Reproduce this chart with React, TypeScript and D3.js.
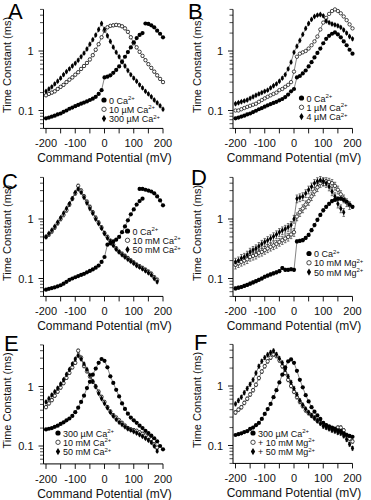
import * as React from "react";
import * as d3 from "d3";

const FONT = "'Liberation Sans', Arial, Helvetica, sans-serif";
const STEP = 10; // mV between command steps

// ---- data: time constants (ms), first value at `start` mV, then every 10 mV ----
const aZero = [0.074, 0.076, 0.079, 0.082, 0.086, 0.089, 0.095, 0.1, 0.107, 0.112, 0.118, 0.124, 0.13, 0.136, 0.142, 0.15, 0.158, 0.17, 0.19, 0.22, 0.36, 0.37, 0.39, 0.43, 0.48, 0.55, 0.66, 0.8, 0.96, 1.15, 1.4, 1.65, 1.86, 2.0];
const aZeroHi = [2.9, 2.85, 2.7, 2.5, 2.2, 1.95, 1.7];
const a10uM = [0.18, 0.19, 0.2, 0.21, 0.23, 0.25, 0.27, 0.3, 0.33, 0.36, 0.4, 0.44, 0.5, 0.56, 0.63, 0.72, 0.85, 1.05, 1.3, 1.7, 2.2, 2.5, 2.65, 2.7, 2.75, 2.7, 2.6, 2.4, 2.1, 1.7, 1.35, 1.15, 0.97, 0.83, 0.7, 0.6, 0.52, 0.45, 0.39, 0.34, 0.3];
const a300uM = [0.21, 0.23, 0.25, 0.28, 0.31, 0.35, 0.4, 0.45, 0.5, 0.56, 0.62, 0.7, 0.8, 0.92, 1.08, 1.3, 1.55, 1.85, 2.3, 2.9, 2.3, 1.8, 1.45, 1.16, 0.95, 0.8, 0.66, 0.56, 0.47, 0.4, 0.35, 0.31, 0.27, 0.24, 0.21, 0.19, 0.17, 0.15, 0.135, 0.12, 0.105];

const bZero = [0.074, 0.076, 0.079, 0.082, 0.086, 0.089, 0.094, 0.099, 0.105, 0.11, 0.116, 0.122, 0.128, 0.134, 0.14, 0.148, 0.156, 0.168, 0.185, 0.21, 0.23, 0.36, 0.38, 0.42, 0.47, 0.55, 0.65, 0.78, 0.93, 1.1, 1.35, 1.6, 1.8, 1.95, 2.05, 1.9, 1.7, 1.45, 1.25, 1.05, 0.9];
const b1uM = [0.1, 0.1, 0.105, 0.11, 0.115, 0.12, 0.125, 0.13, 0.14, 0.15, 0.16, 0.17, 0.18, 0.19, 0.2, 0.22, 0.23, 0.25, 0.27, 0.3, 0.45, 0.8, 0.9, 0.95, 1.0, 1.1, 1.25, 1.45, 1.75, 2.3, 3.0, 3.6, 4.2, 4.7, 5.0, 4.7, 4.3, 3.8, 3.3, 2.8, 2.4];
const b4uM = [0.13, 0.135, 0.14, 0.145, 0.15, 0.16, 0.17, 0.18, 0.19, 0.2, 0.21, 0.22, 0.24, 0.26, 0.28, 0.31, 0.35, 0.4, 0.5, 0.65, 0.95, 1.2, 1.5, 1.9, 2.4, 2.9, 3.4, 3.8, 4.0, 4.1, 3.9, 3.2, 3.0, 2.85, 2.75, 2.65, 2.5, 2.25, 2.0, 1.75, 1.6];

const cZero = [0.065, 0.067, 0.069, 0.071, 0.074, 0.077, 0.082, 0.088, 0.095, 0.1, 0.105, 0.11, 0.115, 0.12, 0.127, 0.134, 0.142, 0.152, 0.165, 0.19, 0.23, 0.37, 0.39, 0.42, 0.45, 0.5, 0.6, 0.75, 0.95, 1.2, 1.45, 1.75, 2.0, 2.2];
const cZeroHi = [3.2, 3.2, 3.1, 3.0, 2.9, 2.7, 2.4, 2.05, 1.7];
const c10mM = [0.5, 0.55, 0.62, 0.72, 0.85, 1.0, 1.17, 1.4, 1.75, 2.2, 2.7, 3.6, 3.0, 2.4, 1.95, 1.6, 1.3, 1.05, 0.87, 0.72, 0.58, 0.5, 0.43, 0.37, 0.32, 0.28, 0.26, 0.24, 0.22, 0.2, 0.185, 0.17, 0.16, 0.15, 0.14, 0.13, 0.12, 0.105, 0.095];
const c50mM = [0.5, 0.57, 0.65, 0.75, 0.88, 1.05, 1.25, 1.5, 1.8, 2.2, 2.8, 3.2, 2.8, 2.3, 1.85, 1.5, 1.25, 1.0, 0.84, 0.7, 0.57, 0.48, 0.42, 0.36, 0.31, 0.28, 0.25, 0.23, 0.21, 0.195, 0.18, 0.165, 0.155, 0.145, 0.135, 0.125, 0.115, 0.1, 0.088];

const dZero = [0.068, 0.07, 0.072, 0.075, 0.078, 0.082, 0.086, 0.09, 0.095, 0.1, 0.107, 0.112, 0.117, 0.122, 0.127, 0.133, 0.15, 0.14, 0.14, 0.143, 0.14, 0.42, 0.43, 0.44, 0.48, 0.54, 0.65, 0.79, 0.97, 1.17, 1.4, 1.6, 1.8, 2.0, 2.1, 2.2, 2.2, 2.1, 1.95, 1.75, 1.6];
const d10Mg = [0.17, 0.18, 0.19, 0.2, 0.21, 0.23, 0.24, 0.25, 0.27, 0.28, 0.3, 0.32, 0.34, 0.36, 0.38, 0.41, 0.44, 0.47, 0.5, 0.55, 0.6, 1.1, 1.3, 1.5, 1.75, 2.0, 2.4, 2.9, 3.4, 4.0, 4.2, 4.3, 4.2, 4.0, 3.6, 3.1, 2.6, 2.2, 1.9, 1.7];
const d50Mg = [0.19, 0.2, 0.22, 0.23, 0.25, 0.28, 0.3, 0.32, 0.35, 0.38, 0.41, 0.44, 0.47, 0.51, 0.55, 0.6, 0.64, 0.68, 0.73, 0.79, 1.0, 2.2, 2.3, 2.4, 2.7, 3.1, 3.5, 4.0, 4.3, 4.5, 4.3, 4.0, 3.5, 2.9, 2.4, 1.8, 1.5, 1.3];

const e300uM = [0.19, 0.195, 0.2, 0.21, 0.22, 0.235, 0.25, 0.27, 0.29, 0.32, 0.37, 0.44, 0.55, 0.7, 0.94, 1.2, 1.58, 2.0, 2.5, 2.9, 2.7, 2.1, 1.48, 1.15, 0.88, 0.68, 0.52, 0.42, 0.35, 0.3, 0.27, 0.245, 0.22, 0.2, 0.18, 0.165, 0.15, 0.135, 0.12, 0.1, 0.088];
const e10mM = [0.45, 0.52, 0.59, 0.7, 0.82, 0.96, 1.14, 1.4, 1.7, 2.1, 2.5, 4.0, 3.06, 2.2, 1.8, 1.48, 1.2, 1.0, 0.82, 0.67, 0.55, 0.45, 0.38, 0.33, 0.3, 0.27, 0.245, 0.22, 0.2, 0.19, 0.185, 0.18, 0.17, 0.16, 0.15, 0.14, 0.13, 0.107, 0.094];
const e50mM = [0.55, 0.63, 0.72, 0.82, 0.94, 1.1, 1.3, 1.6, 1.93, 2.4, 2.9, 3.3, 2.9, 2.4, 1.93, 1.55, 1.22, 1.0, 0.77, 0.63, 0.52, 0.44, 0.37, 0.32, 0.28, 0.25, 0.23, 0.21, 0.195, 0.185, 0.175, 0.165, 0.155, 0.145, 0.135, 0.125, 0.115, 0.1, 0.082];

const f300uM = [0.15, 0.155, 0.16, 0.168, 0.174, 0.19, 0.2, 0.22, 0.24, 0.28, 0.34, 0.41, 0.5, 0.65, 0.85, 1.15, 1.55, 2.05, 2.6, 2.8, 2.45, 1.8, 1.27, 0.95, 0.7, 0.55, 0.44, 0.37, 0.32, 0.28, 0.24, 0.22, 0.21, 0.2, 0.19, 0.18, 0.174, 0.16, 0.15, 0.145, 0.14];
const f10Mg = [0.36, 0.4, 0.44, 0.52, 0.61, 0.72, 0.85, 1.05, 1.36, 1.75, 2.15, 2.6, 3.0, 3.4, 3.2, 2.7, 2.15, 1.65, 1.27, 1.0, 0.8, 0.65, 0.54, 0.46, 0.39, 0.35, 0.32, 0.29, 0.26, 0.245, 0.23, 0.215, 0.2, 0.195, 0.19, 0.2, 0.2, 0.18, 0.15, 0.13, 0.117];
const f50Mg = [0.5, 0.57, 0.65, 0.77, 0.91, 1.07, 1.27, 1.65, 2.15, 2.6, 3.0, 3.35, 3.65, 3.9, 3.4, 2.9, 2.45, 1.9, 1.45, 1.15, 0.91, 0.72, 0.57, 0.48, 0.41, 0.36, 0.32, 0.29, 0.26, 0.235, 0.21, 0.2, 0.19, 0.18, 0.174, 0.165, 0.16, 0.145, 0.126, 0.105, 0.09];

const xTicks = [-200, -150, -100, -50, 0, 50, 100, 150, 200];
const xLabels = [-200, -100, 0, 100, 200];
const yMajor = [0.1, 1];
const yMinor = [0.05, 0.06, 0.07, 0.08, 0.09, 0.2, 0.3, 0.4, 0.5, 0.6, 0.7, 0.8, 0.9, 2, 3, 4, 5];

type Mark = "filled" | "open" | "diamond";
// err: typical relative size of the error bars
type Series = { start: number; tau: number[]; mark: Mark; err?: number };
type Entry = { text: string; sup: string; mark: Mark };

const panels = [
  {
    letter: "A", x0: 46, y1: 51, lx: 8, ly: 19, legX: 104, legY: 100,
    series: [
      { start: -200, tau: a10uM, mark: "open", err: 0.05 },
      { start: -200, tau: a300uM, mark: "diamond", err: 0.05 },
      { start: -200, tau: aZero, mark: "filled" },
      { start: 140, tau: aZeroHi, mark: "filled" },
    ] as Series[],
    legend: [
      { text: "0 Ca", sup: "2+", mark: "filled" },
      { text: "10 µM Ca", sup: "2+", mark: "open" },
      { text: "300 µM Ca", sup: "2+", mark: "diamond" },
    ] as Entry[],
  },
  {
    letter: "B", x0: 235.5, y1: 51, lx: 188, ly: 19, legX: 301.5, legY: 98,
    series: [
      { start: -200, tau: b1uM, mark: "open" },
      { start: -200, tau: b4uM, mark: "diamond", err: 0.05 },
      { start: -200, tau: bZero, mark: "filled" },
    ] as Series[],
    legend: [
      { text: "0 Ca", sup: "2+", mark: "filled" },
      { text: "1 µM Ca", sup: "2+", mark: "open" },
      { text: "4 µM Ca", sup: "2+", mark: "diamond" },
    ] as Entry[],
  },
  {
    letter: "C", x0: 46, y1: 219, lx: 2, ly: 189, legX: 127.5, legY: 231,
    series: [
      { start: -200, tau: c10mM, mark: "open", err: 0.07 },
      { start: -200, tau: c50mM, mark: "diamond", err: 0.05 },
      { start: -200, tau: cZero, mark: "filled" },
      { start: 120, tau: cZeroHi, mark: "filled" },
    ] as Series[],
    legend: [
      { text: "0 Ca", sup: "2+", mark: "filled" },
      { text: "10 mM Ca", sup: "2+", mark: "open" },
      { text: "50 mM Ca", sup: "2+", mark: "diamond" },
    ] as Entry[],
  },
  {
    letter: "D", x0: 235.5, y1: 219, lx: 191, ly: 185, legX: 309, legY: 253.5,
    series: [
      { start: -200, tau: d10Mg, mark: "open", err: 0.15 },
      { start: -200, tau: d50Mg, mark: "diamond", err: 0.15 },
      { start: -200, tau: dZero, mark: "filled", err: 0.06 },
    ] as Series[],
    legend: [
      { text: "0 Ca", sup: "2+", mark: "filled" },
      { text: "10 mM Mg", sup: "2+", mark: "open" },
      { text: "50 mM Mg", sup: "2+", mark: "diamond" },
    ] as Entry[],
  },
  {
    letter: "E", x0: 46, y1: 386.5, lx: 4, ly: 351, legX: 58, legY: 433,
    series: [
      { start: -200, tau: e10mM, mark: "open", err: 0.06 },
      { start: -200, tau: e50mM, mark: "diamond", err: 0.05 },
      { start: -200, tau: e300uM, mark: "filled" },
    ] as Series[],
    legend: [
      { text: "300 µM Ca", sup: "2+", mark: "filled" },
      { text: "10 mM Ca", sup: "2+", mark: "open" },
      { text: "50 mM Ca", sup: "2+", mark: "diamond" },
    ] as Entry[],
  },
  {
    letter: "F", x0: 235.5, y1: 386, lx: 194, ly: 350, legX: 253, legY: 433,
    series: [
      { start: -200, tau: f10Mg, mark: "open", err: 0.07 },
      { start: -200, tau: f50Mg, mark: "diamond", err: 0.07 },
      { start: -200, tau: f300uM, mark: "filled" },
    ] as Series[],
    legend: [
      { text: "300 µM Ca", sup: "2+", mark: "filled" },
      { text: "+ 10 mM Mg", sup: "2+", mark: "open" },
      { text: "+ 50 mM Mg", sup: "2+", mark: "diamond" },
    ] as Entry[],
  },
];

const diamondSmall = d3.symbol().type(d3.symbolDiamond).size(10)() as string;
const diamondLegend = d3.symbol().type(d3.symbolDiamond).size(16)() as string;

function Marker({ mark, x, y, big }: { mark: Mark; x: number; y: number; big?: boolean }) {
  if (mark === "filled") return <circle cx={x} cy={y} r={big ? 2.6 : 2.1} fill="#000" />;
  if (mark === "open")
    return (
      <circle cx={x} cy={y} r={big ? 2.2 : 1.7} fill="#fff" stroke="#000" strokeWidth={0.7} />
    );
  return (
    <path d={big ? diamondLegend : diamondSmall} transform={`translate(${x},${y})`} fill="#000" />
  );
}

function Panel({ p }: { p: (typeof panels)[number] }) {
  const x = d3.scaleLinear().domain([-200, 200]).range([p.x0, p.x0 + 117]);
  const y = d3.scaleLog().domain([0.1, 1]).range([p.y1 + 59.5, p.y1]);
  const axisY = y(0.05);
  const axisX = x(-200) - 2.5;
  const line = d3
    .line<[number, number]>()
    .x((d) => x(d[0]))
    .y((d) => y(d[1]));
  const pts = (s: Series) => s.tau.map((t, i) => [s.start + i * STEP, t] as [number, number]);

  return (
    <g fontFamily={FONT}>
      <text x={p.lx} y={p.ly} fontSize={22}>
        {p.letter}
      </text>
      {/* y axis */}
      <line x1={axisX} x2={axisX} y1={y(5)} y2={axisY} stroke="#000" strokeWidth={1} />
      {yMinor.map((v) => (
        <line key={"m" + v} x1={axisX - 3.5} x2={axisX} y1={y(v)} y2={y(v)} stroke="#000" strokeWidth={0.7} />
      ))}
      {yMajor.map((v) => (
        <g key={"M" + v}>
          <line x1={axisX - 5} x2={axisX} y1={y(v)} y2={y(v)} stroke="#000" strokeWidth={0.9} />
          <text x={axisX - 10} y={y(v) + 4} fontSize={11} textAnchor="end" fill="#111">
            {v}
          </text>
        </g>
      ))}
      <text
        transform={`translate(${p.x0 - 35},${p.y1 + 14}) rotate(-90)`}
        fontSize={11}
        textAnchor="middle"
        fill="#111"
      >
        Time Constant (ms)
      </text>
      {/* x axis */}
      <line x1={axisX} x2={x(200)} y1={axisY} y2={axisY} stroke="#000" strokeWidth={1} />
      {xTicks.map((v) => (
        <line key={"t" + v} x1={x(v)} x2={x(v)} y1={axisY} y2={axisY + 5} stroke="#000" strokeWidth={0.9} />
      ))}
      {xLabels.map((v) => (
        <text key={"l" + v} x={x(v)} y={axisY + 19} fontSize={11} textAnchor="middle" fill="#111">
          {v}
        </text>
      ))}
      <text x={x(0)} y={axisY + 34} fontSize={12} textAnchor="middle" fill="#111">
        Command Potential (mV)
      </text>
      {/* data */}
      {p.series.map((s, i) => (
        <path key={"ln" + i} d={line(pts(s)) as string} fill="none" stroke="#333" strokeWidth={0.6} />
      ))}
      {p.series.map((s, i) =>
        s.err ? (
          <g key={"eb" + i} stroke="#222" strokeWidth={0.6}>
            {pts(s).map((d, j) => {
              const cx = x(d[0]);
              const lo = y(d[1] * (1 - s.err!));
              const hi = y(d[1] * (1 + s.err!));
              return (
                <g key={j}>
                  <line x1={cx} x2={cx} y1={lo} y2={hi} />
                  <line x1={cx - 1.3} x2={cx + 1.3} y1={hi} y2={hi} />
                  <line x1={cx - 1.3} x2={cx + 1.3} y1={lo} y2={lo} />
                </g>
              );
            })}
          </g>
        ) : null
      )}
      {p.series.map((s, i) => (
        <g key={"mk" + i}>
          {pts(s).map((d, j) => (
            <Marker key={j} mark={s.mark} x={x(d[0])} y={y(d[1])} />
          ))}
        </g>
      ))}
      {/* legend */}
      {p.legend.map((e, i) => (
        <g key={"lg" + i}>
          <Marker mark={e.mark} x={p.legX} y={p.legY + i * 9.3} big />
          <text x={p.legX + 5} y={p.legY + i * 9.3 + 3.5} fontSize={9} fill="#111">
            {e.text}
            <tspan fontSize={6} dy={-3.5}>
              {e.sup}
            </tspan>
          </text>
        </g>
      ))}
    </g>
  );
}

export default function App() {
  return (
    <svg
      width={371}
      height={500}
      style={{ position: "absolute", left: 0, top: 0, background: "#fff" }}
    >
      <rect width={371} height={500} fill="#fff" />
      {panels.map((p) => (
        <Panel key={p.letter} p={p} />
      ))}
    </svg>
  );
}
